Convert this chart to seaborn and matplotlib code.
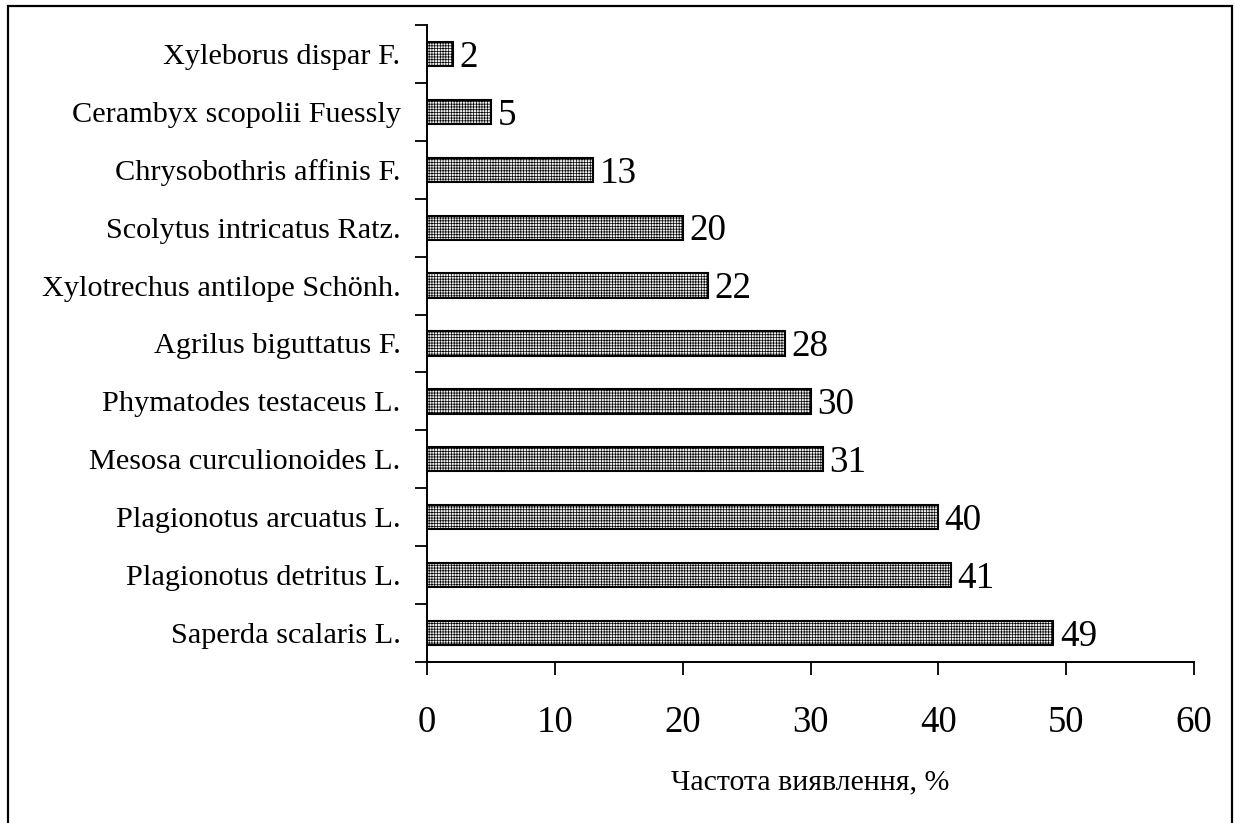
import matplotlib
matplotlib.use("Agg")
import matplotlib.pyplot as plt
import matplotlib.patches as mpatches
from matplotlib.ticker import FixedLocator
import numpy as np
import pandas as pd
import seaborn as sns

species = [
    "Xyleborus dispar F.",
    "Cerambyx scopolii Fuessly",
    "Chrysobothris affinis F.",
    "Scolytus intricatus Ratz.",
    "Xylotrechus antilope Schönh.",
    "Agrilus biguttatus F.",
    "Phymatodes testaceus L.",
    "Mesosa curculionoides L.",
    "Plagionotus arcuatus L.",
    "Plagionotus detritus L.",
    "Saperda scalaris L.",
]
frequency = [2, 5, 13, 20, 22, 28, 30, 31, 40, 41, 49]
x_ticks = [0, 10, 20, 30, 40, 50, 60]
x_label = "Частота виявлення, %"

df = pd.DataFrame({"species": species, "frequency": frequency})

sns.set_theme(style="white")
plt.rcParams["font.family"] = ["Liberation Serif", "DejaVu Serif"]
plt.rcParams["hatch.color"] = "#cfcfcf"
plt.rcParams["hatch.linewidth"] = 0.5

dpi = 100
fig = plt.figure(figsize=(1235 / dpi, 823 / dpi), dpi=dpi)
fig.patch.set_facecolor("white")
ax = fig.add_axes([427 / 1235, 1 - 662 / 823, (1194 - 427) / 1235, (662 - 25) / 823])

sns.barplot(
    data=df, x="frequency", y="species", orient="h", ax=ax,
    width=0.42, color="#eeeeee", edgecolor="black", linewidth=1.5,
    saturation=1,
)
for bar in ax.patches:
    bar.set_hatch("++++++")
    bar.set_facecolor("#f0f0f0")
    bar.set_edgecolor("black")

ax.set_xlim(0, 60)
ax.set_ylim(len(species) - 0.5, -0.5)
ax.set_xticks(x_ticks)
ax.set_xticklabels([str(t) for t in x_ticks], fontsize=26.5)
ax.tick_params(axis="x", which="major", direction="out", bottom=True, length=9.5,
               width=1.3, color="black", pad=22, labelcolor="black")

# category labels at bar centres, tick marks between categories
ax.set_yticks(range(len(species)))
ax.set_yticklabels(species, fontsize=21.8)
ax.tick_params(axis="y", which="major", length=0, pad=19, labelcolor="black")
ax.yaxis.set_minor_locator(FixedLocator(np.arange(-0.5, len(species), 1.0)))
ax.tick_params(axis="y", which="minor", direction="out", length=8.6, width=1.3,
               color="black", left=True)

ax.set_xlabel(x_label, fontsize=21.5, labelpad=21, color="black")
ax.set_ylabel("")

for side in ("top", "right"):
    ax.spines[side].set_visible(False)
for side in ("left", "bottom"):
    ax.spines[side].set_visible(True)
    ax.spines[side].set_color("black")
    ax.spines[side].set_linewidth(1.4)

for bar, val in zip(ax.patches, frequency):
    ax.text(bar.get_width() + 0.5, bar.get_y() + bar.get_height() + 0.01, str(val),
            ha="left", va="baseline", fontsize=26.7, color="black")

# outer frame of the figure
frame = mpatches.Rectangle((7.5 / 1235, -0.05), (1231.5 - 7.5) / 1235, 1.05 - 6.5 / 823,
                           transform=fig.transFigure, fill=False, edgecolor="black",
                           linewidth=1.6, clip_on=False)
fig.patches.append(frame)

fig.savefig("out.png", dpi=dpi)
